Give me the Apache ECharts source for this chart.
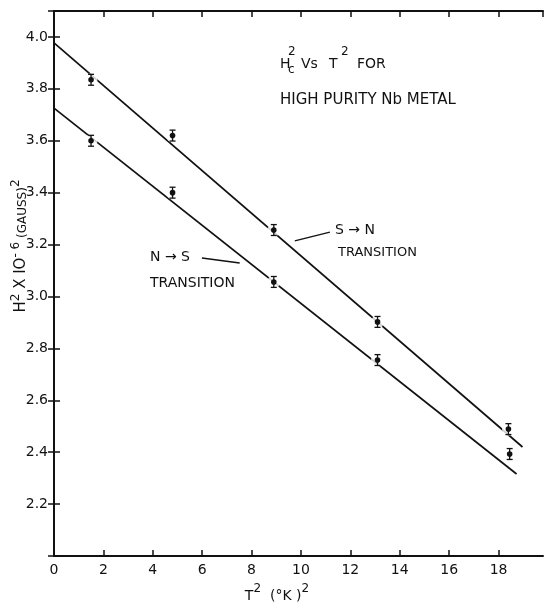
<!DOCTYPE html>
<html>
<head>
<meta charset="utf-8">
<script src="https://cdn.jsdelivr.net/npm/echarts@6/dist/echarts.min.js"></script>
<style>
html,body{margin:0;padding:0;background:#fff;}
#c{width:544px;height:605px;}
</style>
</head>
<body>
<div id="c"></div>
<script>
// ---- data ----
const xTickLabels = [0, 2, 4, 6, 8, 10, 12, 14, 16, 18];
const yTickLabels = [2.2, 2.4, 2.6, 2.8, 3.0, 3.2, 3.4, 3.6, 3.8, 4.0];
// S -> N transition (upper)
const snX = [1.5, 4.8, 8.9, 13.1, 18.4];
const snY = [3.835, 3.62, 3.256, 2.902, 2.489];
// N -> S transition (lower)
const nsX = [1.5, 4.8, 8.9, 13.1, 18.45];
const nsY = [3.60, 3.40, 3.056, 2.755, 2.393];
const errHalf = 0.021;
// fitted straight lines
const snFitX = [0, 18.97];
const snFitY = [3.977, 2.42];
const nsFitX = [0, 18.73];
const nsFitY = [3.726, 2.316];
// annotation arrows (data coords: from -> to)
const snArrow = [[11.17, 3.248], [9.75, 3.214]];
const nsArrow = [[5.99, 3.148], [7.52, 3.129]];

const INK = '#111';
const FONT = 'DejaVu Sans';

const chart = echarts.init(document.getElementById('c'), null, {renderer: 'canvas'});

const pts = (xs, ys) => xs.map((x, i) => [x, ys[i]]);
const errData = pts(snX, snY).concat(pts(nsX, nsY)).map(p => [p[0], p[1], p[1] - errHalf, p[1] + errHalf]);

function renderErr(params, api) {
  const x = api.value(0);
  const c = api.coord([x, api.value(1)]);
  const lo = api.coord([x, api.value(2)]);
  const hi = api.coord([x, api.value(3)]);
  const cap = 3;
  const st = {stroke: INK, lineWidth: 1.3};
  return {
    type: 'group',
    children: [
      {type: 'line', shape: {x1: c[0], y1: lo[1], x2: c[0], y2: hi[1]}, style: st},
      {type: 'line', shape: {x1: c[0] - cap, y1: lo[1], x2: c[0] + cap, y2: lo[1]}, style: st},
      {type: 'line', shape: {x1: c[0] - cap, y1: hi[1], x2: c[0] + cap, y2: hi[1]}, style: st},
      {type: 'circle', shape: {cx: c[0], cy: c[1], r: 2.8}, style: {fill: INK}}
    ]
  };
}

const axisLineStyle = {lineStyle: {color: INK, width: 2}};
const tickStyle = {show: true, inside: true, length: 6, lineStyle: {color: INK, width: 1.5}};

const option = {
  backgroundColor: '#fff',
  animation: false,
  grid: {left: 54, right: 1, top: 11, bottom: 49},
  xAxis: [
    {
      type: 'value', min: 0, max: 19.8, interval: 2,
      axisLine: axisLineStyle, axisTick: tickStyle, splitLine: {show: false},
      axisLabel: {
        color: INK, fontFamily: FONT, fontSize: 14, margin: 7,
        formatter: v => (xTickLabels.indexOf(Math.round(v * 100) / 100) >= 0 ? String(v) : ''),
        showMaxLabel: false
      }
    },
    {
      type: 'value', position: 'top', min: 0, max: 19.8, interval: 2,
      axisLine: axisLineStyle, axisTick: tickStyle, axisLabel: {show: false}, splitLine: {show: false}
    }
  ],
  yAxis: [
    {
      type: 'value', min: 2.0, max: 4.1, interval: 0.2,
      axisLine: axisLineStyle, axisTick: tickStyle, splitLine: {show: false},
      axisLabel: {
        color: INK, fontFamily: FONT, fontSize: 14, margin: 6,
        formatter: v => {
          const r = Math.round(v * 10) / 10;
          return yTickLabels.indexOf(r) >= 0 && Math.abs(v - r) < 1e-6 ? r.toFixed(1) : '';
        }
      }
    },
    {
      type: 'value', position: 'right', min: 2.0, max: 4.1, interval: 0.2,
      axisLine: axisLineStyle, axisTick: tickStyle, axisLabel: {show: false}, splitLine: {show: false}
    }
  ],
  series: [
    {
      type: 'line', data: pts(snFitX, snFitY), symbol: 'none', z: 2,
      lineStyle: {color: INK, width: 1.7},
      markLine: {
        silent: true, symbol: ['none', 'arrow'], symbolSize: [0, 8],
        lineStyle: {color: INK, width: 1.4, type: 'solid'}, label: {show: false},
        data: [[{coord: snArrow[0]}, {coord: snArrow[1]}]]
      }
    },
    {
      type: 'line', data: pts(nsFitX, nsFitY), symbol: 'none', z: 2,
      lineStyle: {color: INK, width: 1.7},
      markLine: {
        silent: true, symbol: ['none', 'arrow'], symbolSize: [0, 8],
        lineStyle: {color: INK, width: 1.4, type: 'solid'}, label: {show: false},
        data: [[{coord: nsArrow[0]}, {coord: nsArrow[1]}]]
      }
    },
    {
      type: 'scatter', data: pts(snX, snY).concat(pts(nsX, nsY)), symbol: 'circle', symbolSize: 13, z: 3,
      itemStyle: {color: '#fff'}, silent: true
    },
    {
      type: 'custom', data: errData, renderItem: renderErr, z: 4,
      encode: {x: 0, y: [1, 2, 3]}
    }
  ],
  graphic: [
    {type: 'text', style: {x: 280, y: 64, text: 'H', font: '14px DejaVu Sans', fill: INK, verticalAlign: 'middle'}},
    {type: 'text', style: {x: 288, y: 52, text: '2', font: '12px DejaVu Sans', fill: INK, verticalAlign: 'middle'}},
    {type: 'text', style: {x: 288, y: 70, text: 'c', font: '12px DejaVu Sans', fill: INK, verticalAlign: 'middle'}},
    {type: 'text', style: {x: 301, y: 64, text: 'Vs', font: '14px DejaVu Sans', fill: INK, verticalAlign: 'middle'}},
    {type: 'text', style: {x: 329, y: 64, text: 'T', font: '14px DejaVu Sans', fill: INK, verticalAlign: 'middle'}},
    {type: 'text', style: {x: 341, y: 52, text: '2', font: '12px DejaVu Sans', fill: INK, verticalAlign: 'middle'}},
    {type: 'text', style: {x: 357, y: 64, text: 'FOR', font: '14px DejaVu Sans', fill: INK, verticalAlign: 'middle'}},
    {type: 'text', style: {x: 280, y: 100, text: 'HIGH PURITY Nb METAL', font: '15px DejaVu Sans', fill: INK, verticalAlign: 'middle'}},
    {type: 'text', style: {x: 335, y: 230, text: 'S \u2192 N', font: '14px DejaVu Sans', fill: INK, verticalAlign: 'middle'}},
    {type: 'text', style: {x: 338, y: 253, text: 'TRANSITION', font: '13px DejaVu Sans', fill: INK, verticalAlign: 'middle'}},
    {type: 'text', style: {x: 150, y: 257, text: 'N \u2192 S', font: '14px DejaVu Sans', fill: INK, verticalAlign: 'middle'}},
    {type: 'text', style: {x: 150, y: 283, text: 'TRANSITION', font: '14px DejaVu Sans', fill: INK, verticalAlign: 'middle'}},
    {
      type: 'text', x: 19, y: 246, rotation: Math.PI / 2,
      style: {
        text: '{a|H}{s|2}{a| X IO}{s|- 6}{b| (GAUSS)}{s|2}',
        align: 'center', verticalAlign: 'middle', fill: INK,
        rich: {
          a: {fontFamily: FONT, fontSize: 15, lineHeight: 19, verticalAlign: 'bottom', fill: INK},
          b: {fontFamily: FONT, fontSize: 12, lineHeight: 19, verticalAlign: 'bottom', fill: INK},
          s: {fontFamily: FONT, fontSize: 12, lineHeight: 19, verticalAlign: 'top', fill: INK}
        }
      }
    },
    {
      type: 'text', x: 277, y: 593,
      style: {
        text: '{a|T}{s|2}{a|  (\u00B0K )}{s|2}',
        align: 'center', verticalAlign: 'middle', fill: INK,
        rich: {
          a: {fontFamily: FONT, fontSize: 14, lineHeight: 20, verticalAlign: 'bottom', fill: INK},
          s: {fontFamily: FONT, fontSize: 12, lineHeight: 20, verticalAlign: 'top', fill: INK}
        }
      }
    }
  ]
};
chart.setOption(option);
</script>
</body>
</html>
